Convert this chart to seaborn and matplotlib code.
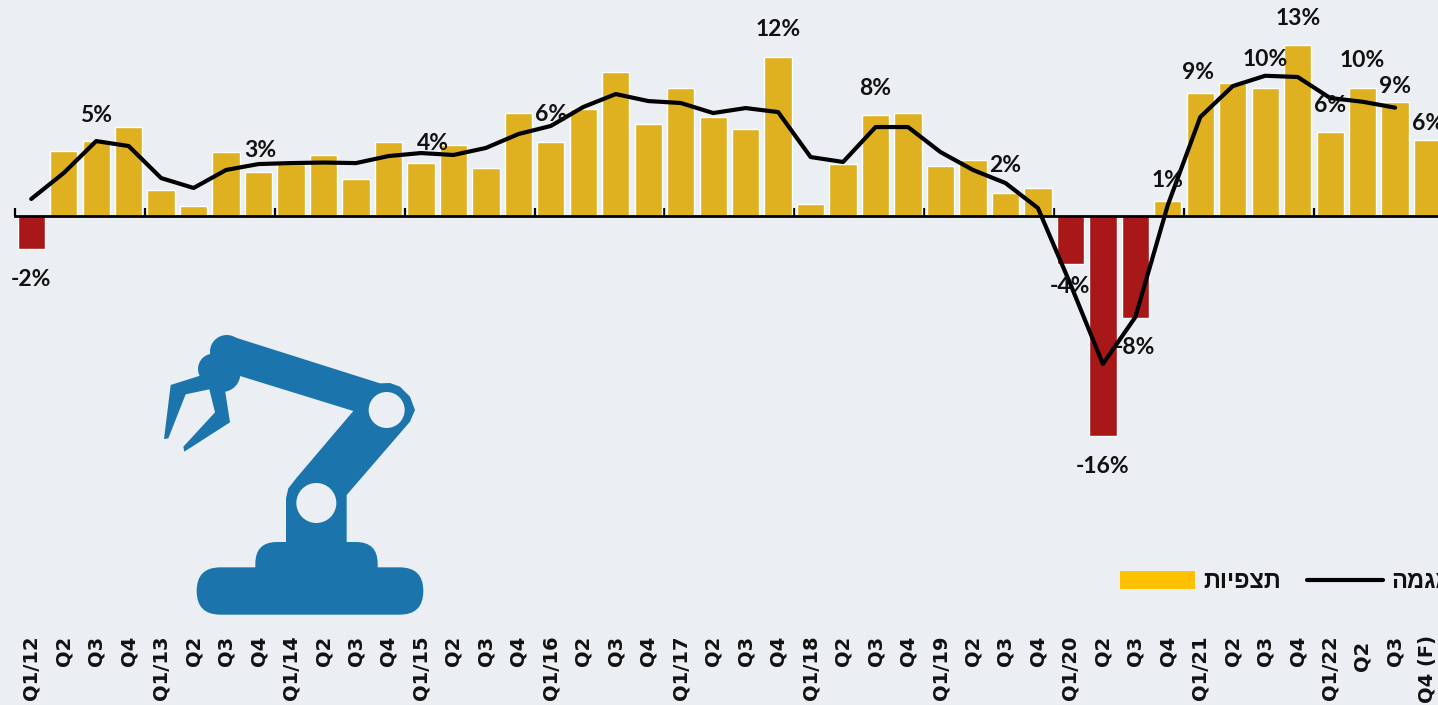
import matplotlib
matplotlib.use("Agg")
import matplotlib.pyplot as plt
from matplotlib.patches import Circle, FancyBboxPatch, Patch, Polygon
from matplotlib.lines import Line2D
import numpy as np
import pandas as pd
import seaborn as sns

quarters = ["Q1/12", "Q2", "Q3", "Q4", "Q1/13", "Q2", "Q3", "Q4", "Q1/14", "Q2", "Q3", "Q4",
            "Q1/15", "Q2", "Q3", "Q4", "Q1/16", "Q2", "Q3", "Q4", "Q1/17", "Q2", "Q3", "Q4",
            "Q1/18", "Q2", "Q3", "Q4", "Q1/19", "Q2", "Q3", "Q4", "Q1/20", "Q2", "Q3", "Q4",
            "Q1/21", "Q2", "Q3", "Q4", "Q1/22", "Q2 ", "Q3", "Q4 (F)"]
expect = [-2.4, 4.73, 5.45, 6.47, 1.89, 0.73, 4.65, 3.2, 3.78, 4.44, 2.69, 5.38,
          3.85, 5.16, 3.49, 7.49, 5.38, 7.78, 10.47, 6.69, 9.31, 7.2, 6.33, 11.56,
          0.87, 3.78, 7.35, 7.49, 3.64, 4.07, 1.67, 2.04, -3.49, -16.0, -7.42, 1.09,
          8.95, 9.67, 9.31, 12.44, 6.11, 9.31, 8.29, 5.53]
trend = [1.24, 3.13, 5.45, 5.09, 2.76, 2.04, 3.35, 3.78, 3.85, 3.89, 3.85, 4.36,
         4.58, 4.44, 4.95, 5.96, 6.55, 7.93, 8.87, 8.36, 8.22, 7.49, 7.85, 7.56,
         4.29, 3.93, 6.47, 6.47, 4.65, 3.35, 2.4, 0.58, -4.95, -10.76, -7.35, 0.8,
         7.2, 9.45, 10.2, 10.11, 8.58, 8.31, 7.88, np.nan]

label_text = ["-2%", "5%", "3%", "4%", "6%", "12%", "8%", "2%", "-4%", "-16%", "-8%", "1%",
              "9%", "10%", "13%", "6%", "10%", "9%", "6%"]
label_x = [0, 2, 7.05, 12.37, 16, 23, 26, 30, 32, 33, 34, 35, 35.93, 38, 39, 40, 41, 42, 43]
label_y = [-4.65, 7.3, 4.75, 5.3, 7.35, 13.53, 9.3, 3.65, -5.15, -18.2, -9.55, 2.6,
           10.47, 11.35, 14.4, 8.07, 11.3, 9.4, 6.76]

legend_names = ["תצפיות", "מגמה"]

bg = "#EBEFF3"
sns.set_theme(style="white", rc={"figure.facecolor": bg, "axes.facecolor": bg})

df = pd.DataFrame({"pos": range(len(expect)), "expect": expect, "trend": trend})
df["sign"] = np.where(df["expect"] < 0, "neg", "pos")

fig = plt.figure(figsize=(14.38, 7.05), dpi=100)
ax = fig.add_axes([15 / 1438, 0, 1423 / 1438, 1])

sns.barplot(data=df, x="pos", y="expect", hue="sign", dodge=False, width=0.84,
            palette={"pos": "#FFC000", "neg": "#C00000"}, legend=False, ax=ax)
sns.lineplot(data=df, x="pos", y="trend", color="black", linewidth=3, errorbar=None, ax=ax,
             solid_capstyle="round")

ax.set_xlim(-0.5, 43.32)
ax.set_ylim(-35.56, 15.71)
ax.set_xlabel("")
ax.set_ylabel("")
ax.set_yticks([])
for s in ["top", "left", "right"]:
    ax.spines[s].set_visible(False)
ax.spines["bottom"].set_position(("data", 0))
ax.spines["bottom"].set_linewidth(2)
ax.spines["bottom"].set_color("black")
ax.spines["bottom"].set_zorder(3)

ax.set_xticks(range(len(quarters)))
ax.set_xticklabels(quarters, rotation=90, fontsize=14, fontweight="bold",
                   family="DejaVu Sans", color="#111111")
ax.tick_params(axis="x", which="major", length=0, pad=302)
ax.set_xticks(np.arange(-0.5, 43, 4), minor=True)
ax.tick_params(axis="x", which="minor", direction="in", length=6, width=1.6,
               color="black", bottom=True)

for x, y, t in zip(label_x, label_y, label_text):
    ax.text(x, y, t, ha="center", va="center", fontsize=16.5, fontweight="bold",
            family="Lato", color="#111111", zorder=6)

handles = [Patch(facecolor="#FFC000", edgecolor="none"),
           Line2D([0], [0], color="black", linewidth=3, solid_capstyle="round")]
# matplotlib has no bidi, so the hebrew strings go in visual order
leg = ax.legend(handles, [n[::-1] for n in legend_names], ncol=2, loc="lower left",
                bbox_to_anchor=(1109 / 1438, (705 - 604) / 705), bbox_transform=fig.transFigure,
                frameon=True, fancybox=False, framealpha=0, edgecolor="#222222",
                handlelength=3.2, handleheight=0.8, handletextpad=0.35, columnspacing=1.1,
                borderaxespad=0, borderpad=0.45,
                prop={"family": "Liberation Sans", "weight": "bold", "size": 17})
leg.get_frame().set_linewidth(1.2)
for t in leg.get_texts():
    t.set_color("#111111")

# robot icon, coordinates are in its own small axes
icon = fig.add_axes([150 / 1438, (705 - 625) / 705, 290 / 1438, 300 / 705])
icon.set_xlim(0, 870)
icon.set_ylim(900, 0)
icon.axis("off")
blue = "#1B75AC"
icon.add_patch(FancyBboxPatch((211, 798), 538, 0.01, boxstyle="round,pad=71,rounding_size=71",
                              fc=blue, ec="none"))
icon.add_patch(FancyBboxPatch((381, 716), 237, 84, boxstyle="round,pad=65,rounding_size=65",
                              fc=blue, ec="none"))
icon.add_patch(Polygon([(408, 660), (408, 520), (415, 490), (440, 458), (610, 258), (270, 153),
                        (200, 120), (248, 35), (690, 175), (720, 174), (750, 185), (780, 215),
                        (795, 255), (780, 290), (590, 510), (590, 660)], fc=blue, ec="none"))
icon.add_patch(Polygon([(150, 152), (62, 180), (42, 342), (55, 340), (107, 208), (178, 193),
                        (195, 262), (100, 365), (103, 380), (240, 292), (225, 195), (200, 140)],
                       fc=blue, ec="none"))
icon.add_patch(Circle((230, 80), 50, fc=blue, ec="none"))
icon.add_patch(Circle((190, 132), 46, fc=blue, ec="none"))
icon.add_patch(Circle((216, 146), 55, fc=blue, ec="none"))
icon.add_patch(Circle((710, 255), 54, fc=bg, ec="none"))
icon.add_patch(Circle((499, 534), 60, fc=bg, ec="none"))

fig.savefig("out.png", dpi=100, facecolor=bg)
